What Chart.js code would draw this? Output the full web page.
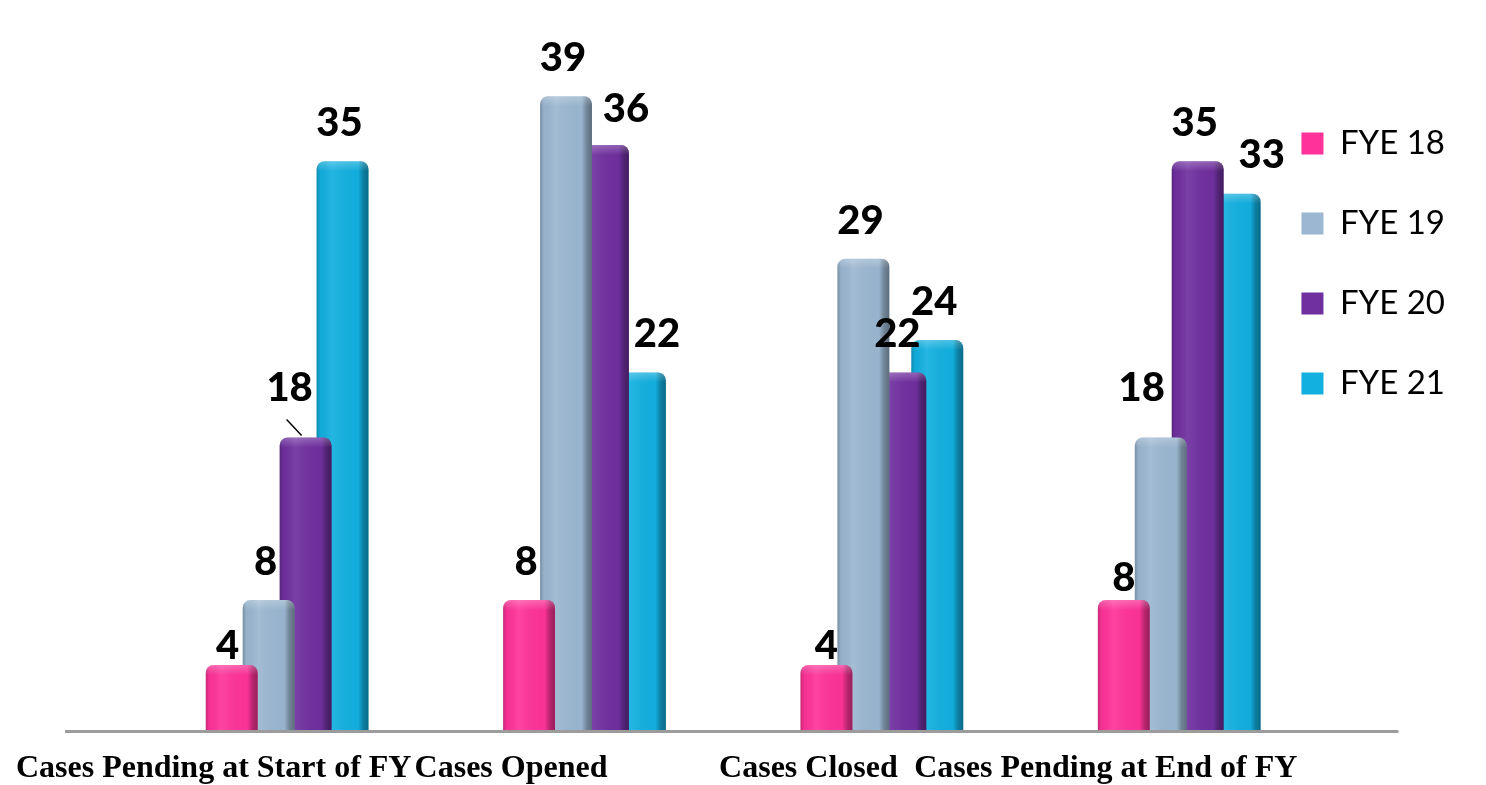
<!DOCTYPE html>
<html>
<head>
<meta charset="utf-8">
<title>Cases by fiscal year</title>
<script src="https://cdn.jsdelivr.net/npm/chart.js@4.4.1/dist/chart.umd.min.js"></script>
<style>
  html, body { margin: 0; padding: 0; background: #fff; }
  #casesChart { display: block; }
</style>
</head>
<body>
<canvas id="casesChart" width="1486" height="785"></canvas>
<script>
const categories = ['Cases Pending at Start of FY', 'Cases Opened', 'Cases Closed', 'Cases Pending at End of FY'];
const seriesNames = ['FYE 18', 'FYE 19', 'FYE 20', 'FYE 21'];
const fye18 = [4, 8, 4, 8];
const fye19 = [8, 39, 29, 18];
const fye20 = [18, 36, 22, 35];
const fye21 = [35, 22, 24, 33];
const seriesColors = ['#ff3399', '#9bb7d1', '#7030a0', '#12b0e0'];

// value labels moved off their default spot: [series, category, dx, lift above bar]
const labelNudges = [
  [0, 0, -4, 19],
  [2, 0, -16, 49],
  [2, 1, 23, 36],
  [3, 1, 17, 38],
  [0, 2, 0, 19],
  [0, 3, 0, 22],
  [1, 3, -19, 49],
  [3, 3, 27, 39]
];

// bars sit a little to the right of their category label (3D depth look)
const barShift = 0.247;

// floor line under the bars, running on past the plot
const floorLine = {
  id: 'floorLine',
  beforeDatasetsDraw(chart) {
    const {ctx, chartArea} = chart;
    ctx.save();
    ctx.strokeStyle = '#9c9c9c';
    ctx.lineWidth = 3;
    ctx.beginPath();
    ctx.moveTo(chartArea.left, chartArea.bottom + 1.5);
    ctx.lineTo(chartArea.right + 144, chartArea.bottom + 1.5);
    ctx.stroke();
    ctx.restore();
  }
};

// cylinder-like shading over each bar, done per dataset so overlaps stay right
const barShading = {
  id: 'barShading',
  afterDatasetDraw(chart, args) {
    const ctx = chart.ctx;
    args.meta.data.forEach(bar => {
      const {x, y, base, width} = bar.getProps(['x', 'y', 'base', 'width'], true);
      const left = x - width / 2;
      const g = ctx.createLinearGradient(left, 0, left + width, 0);
      g.addColorStop(0, 'rgba(0,0,0,0.22)');
      g.addColorStop(0.07, 'rgba(0,0,0,0.04)');
      g.addColorStop(0.3, 'rgba(255,255,255,0.08)');
      g.addColorStop(0.8, 'rgba(0,0,0,0.02)');
      g.addColorStop(0.9, 'rgba(0,0,0,0.28)');
      g.addColorStop(1, 'rgba(0,0,0,0.4)');
      ctx.save();
      ctx.beginPath();
      ctx.roundRect(left, y, width, base - y, [8, 8, 0, 0]);
      ctx.fillStyle = g;
      ctx.fill();
      const t = ctx.createLinearGradient(0, y, 0, y + 10);
      t.addColorStop(0, 'rgba(255,255,255,0.25)');
      t.addColorStop(1, 'rgba(255,255,255,0)');
      ctx.fillStyle = t;
      ctx.fill();
      ctx.restore();
    });
  }
};

const valueLabels = {
  id: 'valueLabels',
  afterDatasetsDraw(chart) {
    const ctx = chart.ctx;
    ctx.save();
    ctx.font = '900 40px Lato';
    ctx.fillStyle = '#000';
    ctx.textAlign = 'center';
    ctx.textBaseline = 'middle';
    chart.data.datasets.forEach((ds, s) => {
      chart.getDatasetMeta(s).data.forEach((bar, c) => {
        const nudge = labelNudges.find(n => n[0] === s && n[1] === c);
        const dx = nudge ? nudge[2] : -3;
        const lift = nudge ? nudge[3] : 38;
        ctx.fillText(String(ds.data[c].y), bar.x + dx, bar.y - lift);
      });
    });
    // leader from the FYE 20 label to its bar in the first group
    const bar = chart.getDatasetMeta(2).data[0];
    ctx.strokeStyle = '#000';
    ctx.lineWidth = 1.5;
    ctx.beginPath();
    ctx.moveTo(bar.x - 19, bar.y - 18);
    ctx.lineTo(bar.x - 4, bar.y - 2);
    ctx.stroke();
    ctx.restore();
  }
};

const seriesValues = [fye18, fye19, fye20, fye21];

new Chart(document.getElementById('casesChart'), {
  type: 'bar',
  data: {
    labels: categories,
    datasets: seriesValues.map((vals, s) => ({
      label: seriesNames[s],
      data: vals.map((v, i) => ({x: i, y: v})),
      xAxisID: 'xb',
      backgroundColor: seriesColors[s],
      borderWidth: 0,
      borderRadius: {topLeft: 8, topRight: 8},
      categoryPercentage: 0.497,
      barPercentage: 1.405,
      clip: false
    }))
  },
  options: {
    responsive: false,
    animation: false,
    layout: {padding: {left: 65, top: 80, right: 31, bottom: 0}},
    scales: {
      x: {
        type: 'category',
        offset: true,
        grid: {display: false, drawTicks: false},
        border: {display: false},
        ticks: {
          autoSkip: false,
          maxRotation: 0,
          minRotation: 0,
          padding: 23,
          color: '#000',
          font: {family: '"Liberation Serif", "Times New Roman", serif', size: 32, weight: 'bold', lineHeight: 1}
        },
        afterFit(scale) {
          // labels may run past the plot edges; drop the spare padding under them too
          scale.paddingLeft = 0;
          scale.paddingRight = 0;
          scale.height -= scale.options.ticks.padding;
        }
      },
      xb: {
        type: 'linear',
        display: false,
        offset: false,
        min: -0.5 - barShift,
        max: categories.length - 0.5 - barShift,
        afterBuildTicks(scale) {
          scale.ticks = categories.map((c, i) => ({value: i}));
        }
      },
      y: {display: false, min: 0, max: 40}
    },
    plugins: {
      legend: {
        position: 'right',
        align: 'start',
        labels: {
          boxWidth: 22,
          boxHeight: 22,
          padding: 47,
          color: '#000',
          font: {family: 'Lato', size: 33}
        }
      },
      tooltip: {enabled: false}
    }
  },
  plugins: [floorLine, barShading, valueLabels]
});
</script>
</body>
</html>
